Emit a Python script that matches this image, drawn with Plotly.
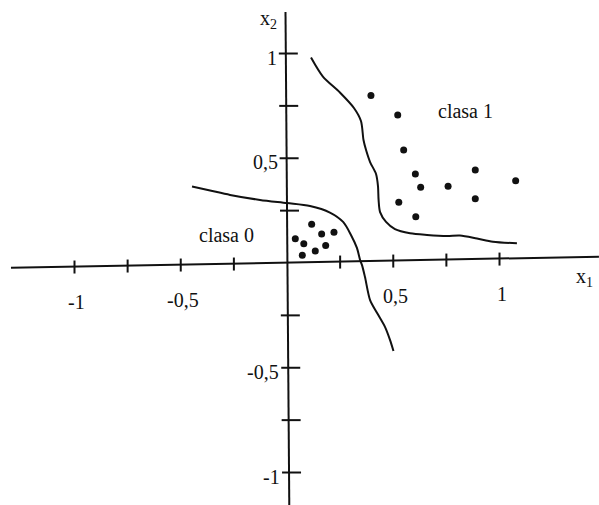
import plotly.graph_objects as go

# ---- data -------------------------------------------------------------
# class 1 samples
c1_x = [0.395, 0.521, 0.549, 0.604, 0.629, 0.758, 0.886, 1.076, 0.886, 0.526, 0.606]
c1_y = [0.799, 0.706, 0.539, 0.425, 0.362, 0.366, 0.444, 0.393, 0.307, 0.290, 0.221]

# class 0 samples
c0_x = [0.116, 0.163, 0.221, 0.039, 0.079, 0.182, 0.133, 0.072]
c0_y = [0.185, 0.138, 0.147, 0.116, 0.092, 0.084, 0.057, 0.037]

# decision boundary around class 0
b0_x = [-0.447, -0.362, -0.268, -0.127, 0.000, 0.108, 0.202, 0.264, 0.301, 0.329,
        0.344, 0.353, 0.367, 0.391, 0.424, 0.461, 0.485, 0.501]
b0_y = [0.365, 0.346, 0.325, 0.301, 0.286, 0.272, 0.241, 0.196, 0.134, 0.072,
        0.014, -0.010, -0.067, -0.177, -0.239, -0.305, -0.368, -0.420]

# decision boundary around class 1
b1_x = [0.113, 0.169, 0.249, 0.315, 0.348, 0.360, 0.372, 0.391, 0.419, 0.428, 0.431,
        0.438, 0.466, 0.508, 0.579, 0.659, 0.753, 0.814, 0.894, 0.969, 1.082]
b1_y = [0.981, 0.890, 0.814, 0.740, 0.678, 0.587, 0.539, 0.482, 0.425, 0.368, 0.301,
        0.243, 0.196, 0.162, 0.142, 0.134, 0.129, 0.131, 0.117, 0.102, 0.094]

x_ticks = [-1, -0.75, -0.5, -0.25, 0.25, 0.5, 0.75, 1]
y_ticks = [-1, -0.75, -0.5, -0.25, 0.25, 0.5, 0.75, 1]
x_tick_labels = {-1: "-1", -0.5: "-0,5", 0.5: "0,5", 1: "1"}
y_tick_labels = {-1: "-1", -0.5: "-0,5", 0.5: "0,5", 1: "1"}

# ---- geometry of the hand-drawn axes ------------------------------------
XR = [-1.3506, 1.4682]
YR = [-1.1551, 1.2554]
PX_X = 599 / (XR[1] - XR[0])      # pixels per unit, horizontal
PX_Y = 505 / (YR[1] - YR[0])      # pixels per unit, vertical

# the axes are slightly skewed
xa_a, xa_b = 0.0022, 0.01897      # x-axis: y = a + b*x
ya_c, ya_d = 0.0020, -0.0076      # y-axis: x = c + d*y
x_axis_span = [-1.299, 1.468]
y_axis_span = [-1.16, 1.198]

def xaxis_y(x):
    return xa_a + xa_b * x

def yaxis_x(y):
    return ya_c + ya_d * y

FONT = "Liberation Serif"
INK = "#111111"

fig = go.Figure()

# axis lines
fig.add_trace(go.Scatter(
    x=x_axis_span, y=[xaxis_y(v) for v in x_axis_span],
    mode="lines", line=dict(color=INK, width=2), hoverinfo="skip"))
fig.add_trace(go.Scatter(
    x=[yaxis_x(v) for v in y_axis_span], y=y_axis_span,
    mode="lines", line=dict(color=INK, width=2), hoverinfo="skip"))

# tick marks
tx, ty = [], []
for v in x_ticks:
    y0 = xaxis_y(v)
    tx += [v, v, None]
    ty += [y0 + 6 / PX_Y, y0 - 7 / PX_Y, None]
for v in y_ticks:
    x0 = yaxis_x(v)
    tx += [x0 - 7 / PX_X, x0 + 12 / PX_X, None]
    ty += [v, v, None]
fig.add_trace(go.Scatter(x=tx, y=ty, mode="lines",
                         line=dict(color=INK, width=2), hoverinfo="skip"))

# decision boundaries
for bx, by in [(b0_x, b0_y), (b1_x, b1_y)]:
    fig.add_trace(go.Scatter(x=bx, y=by, mode="lines",
                             line=dict(color=INK, width=2, shape="spline", smoothing=0.8),
                             hoverinfo="skip"))

# samples
fig.add_trace(go.Scatter(x=c1_x, y=c1_y, mode="markers",
                         marker=dict(color=INK, size=7), name="clasa 1"))
fig.add_trace(go.Scatter(x=c0_x, y=c0_y, mode="markers",
                         marker=dict(color=INK, size=7), name="clasa 0"))

# tick labels
ann = []
for v, t in x_tick_labels.items():
    ann.append(dict(x=v, y=xaxis_y(v) - 35 / PX_Y, text=t, showarrow=False,
                    xanchor="center", yanchor="middle", xshift=2,
                    font=dict(family=FONT, size=20, color=INK)))
for v, t in y_tick_labels.items():
    ann.append(dict(x=yaxis_x(v), y=v, text=t, showarrow=False,
                    xanchor="right", yanchor="middle", xshift=-7, yshift=-4,
                    font=dict(family=FONT, size=20, color=INK)))

# axis names and class labels
ann.append(dict(x=1.402, y=-0.067, text="x<sub>1</sub>", showarrow=False,
                xanchor="center", yanchor="middle",
                font=dict(family=FONT, size=20, color=INK)))
ann.append(dict(x=-0.089, y=1.160, text="x<sub>2</sub>", showarrow=False,
                xanchor="center", yanchor="middle",
                font=dict(family=FONT, size=20, color=INK)))
ann.append(dict(x=0.840, y=0.725, text="clasa 1", showarrow=False,
                xanchor="center", yanchor="middle",
                font=dict(family=FONT, size=20, color=INK)))
ann.append(dict(x=-0.283, y=0.135, text="clasa 0", showarrow=False,
                xanchor="center", yanchor="middle",
                font=dict(family=FONT, size=20, color=INK)))

fig.update_layout(
    width=599, height=505,
    margin=dict(l=0, r=0, t=0, b=0),
    paper_bgcolor="white", plot_bgcolor="white",
    showlegend=False,
    xaxis=dict(range=XR, visible=False, fixedrange=True),
    yaxis=dict(range=YR, visible=False, fixedrange=True),
    annotations=ann,
)

fig.write_html("out.html")
